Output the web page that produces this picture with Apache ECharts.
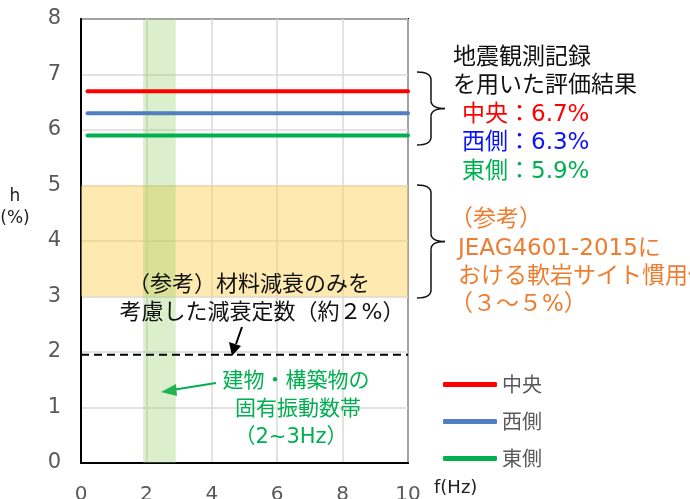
<!DOCTYPE html>
<html>
<head>
<meta charset="utf-8">
<script src="https://cdn.jsdelivr.net/npm/echarts@6/dist/echarts.min.js"></script>
<style>
  html, body { margin: 0; padding: 0; background: #fff; }
  #chart { width: 690px; height: 499px; }
</style>
</head>
<body>
<div id="chart"></div>
<script>
  // データ
  var seriesNames = ['中央', '西側', '東側'];
  var dampingValues = [6.7, 6.3, 5.9];       // 地震観測記録による評価結果 h(%)
  var lineX = [0.2, 10];                      // 水平線の範囲 f(Hz)
  var materialDamping = 1.95;                 // 材料減衰のみ（約2%）
  var softRockRange = [3, 5];                 // JEAG4601-2015 軟岩サイト慣用値
  var naturalFreqBand = [1.9, 2.9];           // 建物・構築物の固有振動数帯
  var xMin = 0, xMax = 10, xStep = 2;
  var yMin = 0, yMax = 8, yStep = 1;

  var lineColors = ['#ff0000', '#4f7fc0', '#00b050'];
  var font = '"DejaVu Sans", "Noto Sans CJK JP", sans-serif';
  var cjk = '"Noto Sans CJK JP", sans-serif';

  var myChart = echarts.init(document.getElementById('chart'));

  var series = seriesNames.map(function (name, i) {
    return {
      name: name,
      type: 'line',
      symbol: 'none',
      z: 3,
      lineStyle: { color: lineColors[i], width: 4, cap: 'round' },
      itemStyle: { color: lineColors[i] },
      data: lineX.map(function (x) { return [x, dampingValues[i]]; })
    };
  });

  // 参考：材料減衰（破線）＋ 軟岩サイト慣用値の帯
  series.push({
    name: '材料減衰',
    type: 'line',
    symbol: 'none',
    z: 2,
    lineStyle: { color: '#000', width: 2, type: [8, 5] },
    data: [[xMin, materialDamping], [xMax, materialDamping]],
    markArea: {
      silent: true,
      itemStyle: { color: 'rgba(253,208,80,0.45)' },
      data: [[{ coord: [xMin, softRockRange[0]] }, { coord: [xMax, softRockRange[1]] }]]
    }
  });

  // 固有振動数帯（線の上に半透明で重ねる）
  series.push({
    name: '固有振動数帯',
    type: 'line',
    symbol: 'none',
    z: 5,
    lineStyle: { width: 0 },
    data: [],
    markArea: {
      silent: true,
      itemStyle: { color: 'rgba(146,205,100,0.32)' },
      data: [[{ coord: [naturalFreqBand[0], yMin] }, { coord: [naturalFreqBand[1], yMax] }]]
    }
  });

  function txt(x, y, text, color, size, align) {
    return {
      type: 'text', x: x, y: y, z: 100,
      style: {
        text: text, fill: color, font: size + 'px ' + font,
        textAlign: align || 'left', textVerticalAlign: 'middle'
      }
    };
  }

  // 右向き中括弧（上端 top, 下端 bottom）
  function brace(top, bottom) {
    var x0 = 417, xv = 431, xt = 445, mid = (top + bottom) / 2, r = 8;
    var st = { stroke: '#111', lineWidth: 1.5, fill: null };
    function curve(x1, y1, cx, cy, x2, y2) {
      return { type: 'bezierCurve', z: 100, shape: { x1: x1, y1: y1, cpx1: cx, cpy1: cy, x2: x2, y2: y2 }, style: st };
    }
    function seg(x1, y1, x2, y2) {
      return { type: 'line', z: 100, shape: { x1: x1, y1: y1, x2: x2, y2: y2 }, style: st };
    }
    return [
      curve(x0, top, xv, top, xv, top + r),
      seg(xv, top + r, xv, mid - r),
      curve(xv, mid - r, xv, mid, xt, mid),
      curve(xt, mid, xv, mid, xv, mid + r),
      seg(xv, mid + r, xv, bottom - r),
      curve(xv, bottom - r, xv, bottom, x0, bottom)
    ];
  }

  var graphics = [
    // 軸名
    txt(15, 197, 'h', '#222', 17, 'center'),
    txt(15, 219, '(%)', '#222', 17, 'center'),
    txt(434, 488, 'f(Hz)', '#222', 18, 'left'),

    // 右側：評価結果
    txt(453, 58, '地震観測記録', '#111', 23),
    txt(453, 86, 'を用いた評価結果', '#111', 23),
    txt(462, 115, '中央：6.7%', '#ff0000', 23),
    txt(462, 143, '西側：6.3%', '#0a14f5', 23),
    txt(462, 172, '東側：5.9%', '#00b050', 23),

    // 右側：参考値
    txt(450, 220, '（参考）', '#ed7d31', 23),
    txt(458, 249, 'JEAG4601-2015に', '#ed7d31', 23),
    txt(458, 277, 'おける軟岩サイト慣用値', '#ed7d31', 23),
    txt(450, 305, '（３～５%）', '#ed7d31', 23),

    // 材料減衰の注記
    txt(249, 285, '（参考）材料減衰のみを', '#111', 22, 'center'),
    txt(262, 313, '考慮した減衰定数（約２%）', '#111', 22, 'center'),
    { type: 'line', z: 100, shape: { x1: 242, y1: 327, x2: 236, y2: 344 }, style: { stroke: '#000', lineWidth: 2 } },
    { type: 'polygon', z: 100, shape: { points: [[229, 342], [241, 346], [232, 356]] }, style: { fill: '#000' } },

    // 固有振動数帯の注記
    txt(296, 382, '建物・構築物の', '#00b050', 21, 'center'),
    txt(298, 410, '固有振動数帯', '#00b050', 21, 'center'),
    txt(291, 438, '（2~3Hz）', '#00b050', 21, 'center'),
    { type: 'line', z: 100, shape: { x1: 216, y1: 383, x2: 172, y2: 390 }, style: { stroke: '#00b050', lineWidth: 2 } },
    { type: 'polygon', z: 100, shape: { points: [[161, 392], [176, 384], [177, 396]] }, style: { fill: '#22b34f' } }
  ].concat(brace(72, 145), brace(185, 298));

  var option = {
    animation: false,
    textStyle: { fontFamily: font },
    grid: {
      left: 81, top: 19, right: 282, bottom: 36,
      outerBoundsMode: 'none',
      show: true, borderColor: '#000', borderWidth: 2, backgroundColor: 'transparent'
    },
    xAxis: {
      type: 'value', min: xMin, max: xMax, interval: xStep,
      axisLine: { show: true, lineStyle: { color: '#000', width: 2 } },
      axisTick: { show: false },
      splitLine: { lineStyle: { color: '#d9d9d9', width: 1.5 } },
      axisLabel: { color: '#595959', fontSize: 20, margin: 22, fontFamily: font }
    },
    yAxis: {
      type: 'value', min: yMin, max: yMax, interval: yStep,
      axisLine: { show: true, lineStyle: { color: '#000', width: 2 } },
      axisTick: { show: false },
      splitLine: { lineStyle: { color: '#d9d9d9', width: 1.5 } },
      axisLabel: { color: '#595959', fontSize: 21, margin: 20, padding: [5, 0, 0, 0], fontFamily: font }
    },
    legend: {
      data: seriesNames,
      orient: 'vertical',
      left: 443, top: 374,
      padding: 0,
      icon: 'roundRect',
      itemWidth: 54, itemHeight: 5,
      itemGap: 16,
      textStyle: { color: '#595959', fontSize: 20, lineHeight: 21, fontFamily: cjk }
    },
    series: series,
    graphic: graphics
  };

  myChart.setOption(option);
</script>
</body>
</html>
